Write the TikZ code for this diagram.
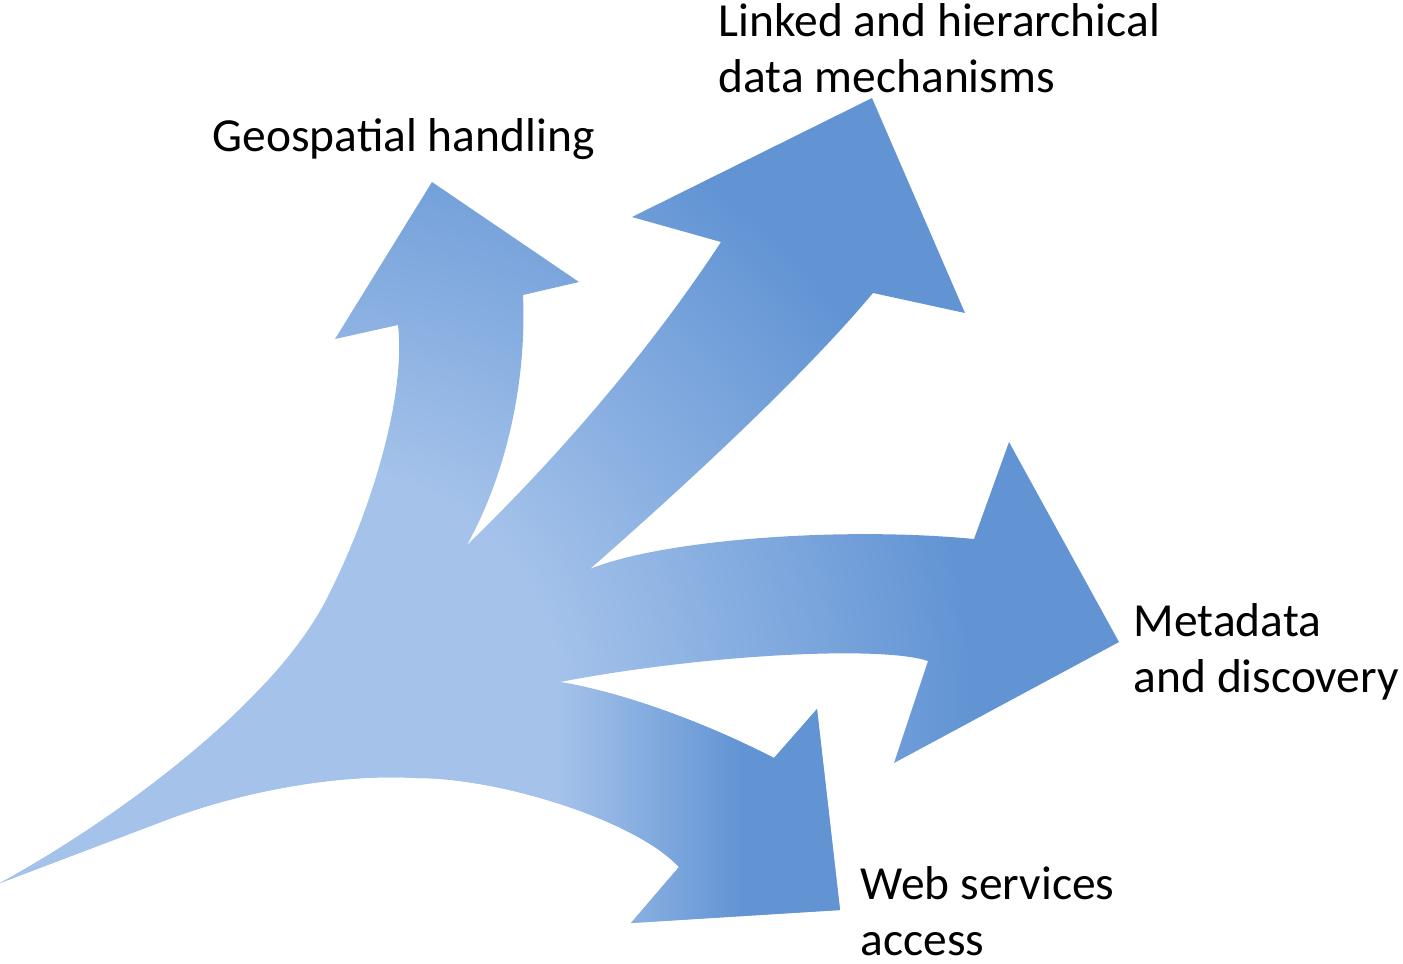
\documentclass[tikz,border=0pt]{standalone}
\usepackage{fontspec}
\setmainfont{Carlito}

\definecolor{fanlight}{HTML}{A4C2EA}
\definecolor{fandark}{HTML}{6294D4}
\pgfdeclareradialshading{fanfade}{\pgfpoint{0bp}{0bp}}{%
  color(0bp)=(fanlight); color(5.75bp)=(fanlight);
  color(16bp)=(fandark); color(50bp)=(fandark)}

\begin{document}
\begin{tikzpicture}[
  x=0.01cm, y=-0.01cm,
  armlabel/.style={
    anchor=base west, inner sep=0pt, align=left,
    font=\fontsize{13.5}{15.65}\selectfont
  },
  fan/.style={
    path picture={
      \shade[shading=fanfade] (330,700) circle (1000);
      \fill[fanlight] (0,682) rectangle (560,963);
      \shade[left color=fanlight, right color=fandark] (559,682) rectangle (741,963);
      \fill[fandark] (740,682) rectangle (860,963);
    }
  }
]
\useasboundingbox (0,0) rectangle (1403,963);

% the fan of four arrows, one outline
\path[fan] (0,883)
  .. controls (110,823) and (271,707) .. (326,600)
  .. controls (372,511) and (406,395) .. (398,325)
  -- (335,339) -- (432,182) -- (579,282) -- (523,295)
  .. controls (527,390) and (503,480) .. (467,545)
  .. controls (560,455) and (650,350) .. (721,242)
  -- (632,217) -- (872,98) -- (965,313) -- (873,293)
  .. controls (800,380) and (680,490) .. (590,569)
  .. controls (660,540) and (840,526) .. (974,539)
  -- (1009,442) -- (1119,642) -- (894,763) -- (928,661)
  .. controls (880,645) and (700,655) .. (560,682)
  .. controls (620,692) and (700,720) .. (774,758)
  -- (817,709) -- (840,910) -- (631,923) -- (679,867)
  .. controls (635,820) and (500,778) .. (417,778)
  .. controls (330,773) and (230,795) .. (161,822)
  -- cycle;

% labels (base = last line)
\node[armlabel] (geo) at (212,151) {Geospatial handling};
\node[armlabel] (linked) at (718,92) {Linked and hierarchical\\data mechanisms};
\node[armlabel] (meta) at (1133,692) {Metadata\\and discovery};
\node[armlabel] (web) at (860,955) {Web services\\access};
\end{tikzpicture}
\end{document}
